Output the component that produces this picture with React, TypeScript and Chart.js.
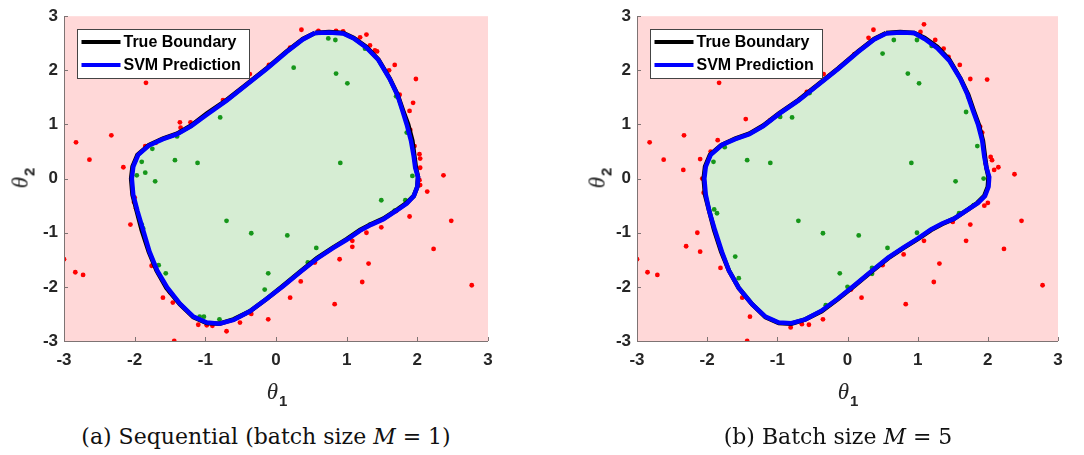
import React, { useEffect, useRef } from 'react';
import { Chart, registerables } from 'chart.js';

Chart.register(...registerables);

// ---------- data ----------
const X_TICKS = [-3, -2, -1, 0, 1, 2, 3];
const X_TICK_LABELS = ['-3', '-2', '-1', '0', '1', '2', '3'];
const Y_TICKS = [-3, -2, -1, 0, 1, 2, 3];
const Y_TICK_LABELS = ['-3', '-2', '-1', '0', '1', '2', '3'];

const LEGEND_LABELS = ['True Boundary', 'SVM Prediction'];
const CAPTION_A = ['(a) Sequential (batch size ', 'M', ' = 1)'];
const CAPTION_B = ['(b) Batch size ', 'M', ' = 5'];

const TRUE_BOUNDARY: number[][] = [
  [0.55, 2.69], [0.75, 2.71], [0.95, 2.69], [1.1, 2.6], [1.28, 2.43], [1.45, 2.2], [1.61, 1.85],
  [1.72, 1.55], [1.8, 1.25], [1.87, 1.0], [1.93, 0.7], [1.96, 0.4], [1.98, 0.2], [2.01, 0.03],
  [2.0, -0.15], [1.95, -0.32], [1.85, -0.45], [1.72, -0.57], [1.52, -0.74], [1.35, -0.84],
  [1.19, -0.95], [1.0, -1.12], [0.8, -1.28], [0.58, -1.47], [0.34, -1.72], [0.1, -1.98],
  [-0.13, -2.22], [-0.37, -2.45], [-0.6, -2.6], [-0.8, -2.68], [-0.98, -2.67], [-1.17, -2.56],
  [-1.36, -2.32], [-1.55, -2.02], [-1.69, -1.7], [-1.8, -1.35], [-1.9, -0.95], [-1.97, -0.6],
  [-2.03, -0.3], [-2.05, 0.0], [-2.03, 0.22], [-1.96, 0.44], [-1.8, 0.62], [-1.6, 0.74],
  [-1.4, 0.83], [-1.2, 0.98], [-0.98, 1.2], [-0.7, 1.45], [-0.42, 1.74], [-0.13, 2.04],
  [0.15, 2.35], [0.38, 2.58], [0.55, 2.69],
];

const SVM_A: number[][] = [
  [0.55, 2.69], [0.75, 2.7], [0.95, 2.68], [1.1, 2.59], [1.28, 2.42], [1.45, 2.19], [1.61, 1.84],
  [1.72, 1.54], [1.79, 1.25], [1.85, 1.0], [1.91, 0.7], [1.95, 0.4], [1.97, 0.2], [2.01, 0.03],
  [2.0, -0.15], [1.95, -0.32], [1.85, -0.46], [1.72, -0.58], [1.52, -0.75], [1.35, -0.85],
  [1.19, -0.96], [1.0, -1.13], [0.8, -1.29], [0.58, -1.48], [0.34, -1.73], [0.1, -1.99],
  [-0.13, -2.22], [-0.37, -2.45], [-0.6, -2.61], [-0.8, -2.68], [-0.98, -2.66], [-1.17, -2.55],
  [-1.36, -2.31], [-1.54, -2.01], [-1.68, -1.7], [-1.79, -1.35], [-1.88, -0.95], [-1.96, -0.6],
  [-2.02, -0.3], [-2.04, 0.0], [-2.02, 0.22], [-1.95, 0.44], [-1.8, 0.61], [-1.6, 0.73],
  [-1.4, 0.82], [-1.2, 0.97], [-0.98, 1.18], [-0.7, 1.44], [-0.42, 1.73], [-0.13, 2.03],
  [0.15, 2.34], [0.38, 2.57], [0.55, 2.69],
];

const SVM_B: number[][] = [
  [0.55, 2.68], [0.75, 2.7], [0.95, 2.69], [1.1, 2.58], [1.28, 2.41], [1.45, 2.18], [1.61, 1.84],
  [1.71, 1.55], [1.79, 1.25], [1.86, 1.0], [1.92, 0.7], [1.95, 0.4], [1.98, 0.2], [2.02, 0.03],
  [2.01, -0.15], [1.96, -0.32], [1.86, -0.45], [1.72, -0.57], [1.52, -0.74], [1.35, -0.83],
  [1.19, -0.94], [1.0, -1.11], [0.8, -1.27], [0.58, -1.46], [0.34, -1.71], [0.1, -1.97],
  [-0.13, -2.21], [-0.37, -2.44], [-0.6, -2.6], [-0.8, -2.67], [-0.98, -2.66], [-1.17, -2.55],
  [-1.36, -2.32], [-1.55, -2.02], [-1.69, -1.7], [-1.79, -1.35], [-1.89, -0.95], [-1.97, -0.6],
  [-2.02, -0.3], [-2.04, 0.0], [-2.02, 0.22], [-1.95, 0.44], [-1.79, 0.62], [-1.6, 0.73],
  [-1.4, 0.82], [-1.2, 0.97], [-0.98, 1.19], [-0.7, 1.44], [-0.42, 1.73], [-0.13, 2.03],
  [0.15, 2.34], [0.38, 2.57], [0.55, 2.68],
];

const RED_A: number[][] = [
  [0.36, 2.75], [1.28, 2.66], [1.33, 2.46], [1.43, 2.35], [1.19, 2.61], [1.4, 2.37], [1.68, 2.1],
  [1.98, 1.84], [1.94, 1.4], [1.89, 1.25], [2.03, 0.45], [2.04, 0.37], [2.37, 0.06], [2.14, -0.24],
  [2.03, -0.03], [2.04, -0.12], [1.89, -0.7], [2.48, -0.78], [2.23, -1.3], [1.49, -0.9], [1.28, -1.0],
  [1.08, -1.15], [1.08, -1.26], [0.9, -1.49], [1.31, -1.57], [1.22, -1.91], [0.83, -2.32],
  [2.77, -1.97], [0.2, -2.2], [-0.11, -2.6], [-0.51, -2.66], [-0.7, -2.82], [-1.1, -2.7],
  [-1.44, -3.0], [-1.6, -2.2], [-1.46, -2.29], [-1.76, -1.61], [-2.06, -0.85], [-2.01, -0.43],
  [-2.16, 0.21], [-2.64, 0.35], [-2.83, 0.67], [-2.33, 0.8], [-3.0, -1.49], [-2.84, -1.73],
  [-2.73, -1.78], [-1.84, 1.77], [-1.36, 1.04], [-1.21, 1.04], [-1.35, 0.94], [-1.85, 0.6],
  [-0.75, 1.45], [-0.37, 1.93], [0.85, 2.73], [0.95, 2.72], [0.35, -1.9], [-0.9, -2.72],
  [-0.98, -2.71], [-1.98, -0.55], [-2.0, -0.35], [-1.5, -2.1], [-0.1, 2.1], [0.2, 2.42],
  [1.6, 2.0], [1.75, 1.55], [1.9, 0.9], [1.96, 0.6], [2.04, 0.2], [1.7, -0.6], [0.55, -1.55],
  [-0.35, -2.5], [-1.7, 0.66], [0.6, 2.73],
];

const GREEN_A: number[][] = [
  [0.25, 2.05], [0.85, 1.94], [1.01, 1.76], [0.74, 2.59], [0.84, 2.56], [1.26, 2.4], [-0.79, 1.13],
  [-1.43, 0.34], [-1.11, 0.29], [0.91, 0.29], [-1.9, 0.31], [-1.97, 0.06], [-1.85, 0.11],
  [-1.71, -0.05], [1.49, -0.4], [1.83, -0.4], [-0.7, -0.78], [-0.35, -1.01], [0.16, -1.05],
  [0.57, -1.28], [1.33, -0.85], [1.68, -0.59], [-0.11, -1.75], [-0.16, -2.05], [-1.56, -1.75],
  [-1.66, -1.6], [-1.88, -0.92], [-0.8, -2.6], [-1.08, -2.55], [-1.75, 0.55], [-1.4, 0.78],
  [1.7, 1.52], [1.85, 0.85], [1.93, 0.05], [-1.02, -2.55], [-1.9, -0.85], [0.45, -1.55], [1.05, -1.1],
];

const RED_B: number[][] = [
  [0.37, 2.75], [1.09, 2.85], [1.04, 2.71], [1.25, 2.56], [1.37, 2.4], [1.44, 2.25], [1.75, 1.84],
  [1.99, 1.83], [1.89, 0.96], [2.04, 0.4], [2.06, 0.34], [2.09, 0.16], [2.15, 0.21], [2.38, 0.08],
  [1.75, -0.85], [1.69, -1.15], [2.48, -0.78], [2.23, -1.3], [1.09, -1.15], [0.8, -1.4], [1.31, -1.57],
  [1.23, -1.91], [0.83, -2.32], [2.78, -1.97], [0.2, -2.2], [-0.35, -2.6], [-0.81, -2.75],
  [-0.65, -2.69], [-1.43, -3.0], [-1.39, -2.55], [-1.5, -2.2], [-1.81, -1.65], [-2.1, -1.35],
  [-2.3, -1.25], [-2.14, -1.0], [-2.05, -0.26], [-2.34, 0.16], [-2.1, 0.36], [-2.62, 0.35],
  [-2.82, 0.67], [-2.33, 0.8], [-3.0, -1.49], [-2.85, -1.73], [-2.71, -1.78], [-1.83, 1.77],
  [-1.45, 1.1], [-1.85, 0.71], [-1.1, 1.08], [-0.58, 1.6], [-0.34, 1.93], [1.92, 0.85],
  [1.97, 0.28], [0.3, 2.6], [0.1, 2.3], [-2.07, 0.0], [-0.55, -2.7], [0.05, -2.05], [0.5, -1.6],
  [1.5, -0.8], [2.0, -0.45], [1.95, -0.5], [-1.95, 0.5], [1.6, 2.1],
];

const GREEN_B: number[][] = [
  [0.5, 2.31], [0.86, 1.94], [1.02, 1.76], [0.66, 2.56], [0.99, 2.56], [-0.79, 1.13], [-1.43, 0.34],
  [-1.1, 0.29], [0.91, 0.29], [-1.91, 0.31], [1.54, -0.05], [1.94, 0.0], [1.59, -0.64], [1.8, -0.49],
  [-0.7, -0.78], [-0.35, -1.01], [0.16, -1.05], [0.57, -1.28], [0.99, -1.0], [-0.11, -1.75],
  [0.0, -2.0], [0.35, -1.65], [0.35, -1.76], [-0.31, -2.34], [-1.6, -1.44], [-1.86, -0.64],
  [-1.9, -0.57], [1.69, 1.23], [1.72, 1.51], [-0.54, 1.58], [-0.96, 1.14], [-1.55, -1.84],
  [-1.75, 0.58], [1.2, 2.45], [1.85, 0.6],
];

// ---------- styles ----------
const PINK = 'rgb(255,216,216)';
const GREEN_FILL = 'rgb(214,237,211)';
const RED_PT = '#ff0000';
const GREEN_PT = '#16961a';
const AXIS_GRAY = 'rgb(125,115,115)';
const TICK_FONT = { family: '"Liberation Sans", Arial, sans-serif', size: 17, weight: 'bold' as const };

const toXY = (a: number[][]) => a.map(([x, y]) => ({ x, y }));

const bgPlugin = {
  id: 'pinkbg',
  beforeDraw(chart: any) {
    const { ctx, chartArea } = chart;
    ctx.save();
    ctx.fillStyle = PINK;
    ctx.fillRect(chartArea.left, chartArea.top, chartArea.right - chartArea.left, chartArea.bottom - chartArea.top);
    ctx.restore();
  },
};

const axesPlugin = {
  id: 'matlabAxes',
  afterDatasetsDraw(chart: any) {
    const { ctx, chartArea, scales } = chart;
    const { left, right, top, bottom } = chartArea;
    ctx.save();
    ctx.strokeStyle = AXIS_GRAY;
    ctx.lineWidth = 1;
    ctx.beginPath();
    ctx.moveTo(left + 0.5, top);
    ctx.lineTo(left + 0.5, bottom + 0.5);
    ctx.lineTo(right, bottom + 0.5);
    scales.x.ticks.forEach((t: any) => {
      const px = Math.round(scales.x.getPixelForValue(t.value)) + 0.5;
      ctx.moveTo(px, bottom);
      ctx.lineTo(px, bottom - 4);
    });
    scales.y.ticks.forEach((t: any) => {
      const py = Math.round(scales.y.getPixelForValue(t.value)) + 0.5;
      ctx.moveTo(left, py);
      ctx.lineTo(left + 4, py);
    });
    ctx.stroke();
    ctx.restore();
  },
};

const legendPlugin = {
  id: 'boxLegend',
  afterDraw(chart: any) {
    const { ctx, chartArea } = chart;
    const bx = Math.round(chartArea.left) + 13.5;
    const by = Math.round(chartArea.top) + 13.5;
    const bw = 172;
    const bh = 49;
    ctx.save();
    ctx.fillStyle = '#ffffff';
    ctx.fillRect(bx, by, bw, bh);
    ctx.strokeStyle = '#444';
    ctx.lineWidth = 1;
    ctx.strokeRect(bx, by, bw, bh);
    const items = [
      { label: LEGEND_LABELS[0], color: chart.data.datasets[1].borderColor, y: by + 12.5 },
      { label: LEGEND_LABELS[1], color: chart.data.datasets[0].borderColor, y: by + 35.5 },
    ];
    ctx.font = 'bold 16px "Liberation Sans", Arial, sans-serif';
    ctx.textBaseline = 'middle';
    items.forEach((it) => {
      ctx.strokeStyle = it.color;
      ctx.lineWidth = 4;
      ctx.beginPath();
      ctx.moveTo(bx + 4, it.y);
      ctx.lineTo(bx + 43, it.y);
      ctx.stroke();
      ctx.fillStyle = '#000';
      ctx.fillText(it.label, bx + 46, it.y + 1);
    });
    ctx.restore();
  },
};

function makeScale(axis: 'x' | 'y', ticks: number[], labels: string[], size: number, pad: number) {
  return {
    type: 'linear' as const,
    min: -3,
    max: 3,
    grid: { display: false, drawTicks: false },
    border: { display: false },
    afterBuildTicks: (s: any) => {
      s.ticks = ticks.map((v) => ({ value: v }));
    },
    afterFit: (s: any) => {
      if (axis === 'x') s.height = size;
      else s.width = size;
    },
    ticks: {
      padding: pad,
      color: '#262626',
      font: TICK_FONT,
      autoSkip: false,
      maxRotation: 0,
      callback: (_v: any, i: number) => labels[i],
    },
  };
}

type PanelProps = {
  left: number;
  width: number;
  yAxisWidth: number;
  rightPad: number;
  svm: number[][];
  red: number[][];
  green: number[][];
};

function Panel({ left, width, yAxisWidth, rightPad, svm, red, green }: PanelProps) {
  const ref = useRef<HTMLCanvasElement | null>(null);
  useEffect(() => {
    if (!ref.current) return;
    const chart = new Chart(ref.current, {
      type: 'scatter',
      data: {
        datasets: [
          {
            label: LEGEND_LABELS[1],
            data: toXY(svm),
            showLine: true,
            borderColor: '#0000ff',
            borderWidth: 4.5,
            pointRadius: 0,
            pointHoverRadius: 0,
            fill: false,
            tension: 0,
          },
          {
            label: LEGEND_LABELS[0],
            data: toXY(TRUE_BOUNDARY),
            showLine: true,
            borderColor: '#000000',
            borderWidth: 4.5,
            backgroundColor: GREEN_FILL,
            pointRadius: 0,
            pointHoverRadius: 0,
            fill: 'shape',
            tension: 0,
          },
          {
            label: 'unsafe',
            data: toXY(red),
            pointRadius: 2.4,
            pointBorderWidth: 0,
            pointBackgroundColor: RED_PT,
            backgroundColor: RED_PT,
          },
          {
            label: 'safe',
            data: toXY(green),
            pointRadius: 2.4,
            pointBorderWidth: 0,
            pointBackgroundColor: GREEN_PT,
            backgroundColor: GREEN_PT,
          },
        ],
      } as any,
      options: {
        animation: false,
        responsive: false,
        events: [],
        layout: { padding: { top: 16, right: rightPad, left: 0, bottom: 0 } },
        plugins: {
          legend: { display: false },
          tooltip: { enabled: false },
          filler: { drawTime: 'beforeDatasetsDraw' },
        } as any,
        scales: {
          x: makeScale('x', X_TICKS, X_TICK_LABELS, 69, 9),
          y: makeScale('y', Y_TICKS, Y_TICK_LABELS, yAxisWidth, 6),
        } as any,
      },
      plugins: [bgPlugin, axesPlugin, legendPlugin],
    });
    return () => chart.destroy();
  }, []);
  return (
    <canvas
      ref={ref}
      width={width}
      height={410}
      style={{ position: 'absolute', left, top: 0, width, height: 410, display: 'block' }}
    />
  );
}

function ThetaLabel({ sub, cx, cy, rotate }: { sub: string; cx: number; cy: number; rotate?: boolean }) {
  return (
    <div
      style={{
        position: 'absolute',
        left: cx,
        top: cy,
        transform: `translate(-50%, -50%)${rotate ? ' rotate(-90deg)' : ''}`,
        whiteSpace: 'nowrap',
        lineHeight: 1,
        color: '#262626',
      }}
    >
      <span style={{ fontFamily: '"Liberation Serif", serif', fontStyle: 'italic', fontSize: 23 }}>θ</span>
      <span
        style={{
          fontFamily: '"Liberation Sans", Arial, sans-serif',
          fontWeight: 'bold',
          fontSize: 15,
          position: 'relative',
          top: 7,
          marginLeft: 1,
        }}
      >
        {sub}
      </span>
    </div>
  );
}

function Caption({ parts, cx }: { parts: string[]; cx: number }) {
  return (
    <div
      style={{
        position: 'absolute',
        left: cx,
        top: 426,
        transform: 'translateX(-50%)',
        whiteSpace: 'pre',
        fontFamily: '"DejaVu Serif", serif',
        fontSize: 22,
        lineHeight: 1,
        color: '#111',
      }}
    >
      {parts[0]}
      <i>{parts[1]}</i>
      {parts[2]}
    </div>
  );
}

export default function App() {
  return (
    <div style={{ position: 'absolute', left: 0, top: 0, width: 1084, height: 455, background: '#fff', overflow: 'hidden' }}>
      <Panel left={0} width={540} yAxisWidth={64} rightPad={52} svm={SVM_A} red={RED_A} green={GREEN_A} />
      <Panel left={540} width={544} yAxisWidth={97} rightPad={26} svm={SVM_B} red={RED_B} green={GREEN_B} />
      <ThetaLabel sub="1" cx={277} cy={391} />
      <ThetaLabel sub="2" cx={20} cy={178} rotate />
      <ThetaLabel sub="1" cx={848} cy={391} />
      <ThetaLabel sub="2" cx={597} cy={178} rotate />
      <Caption parts={CAPTION_A} cx={266} />
      <Caption parts={CAPTION_B} cx={838} />
    </div>
  );
}
